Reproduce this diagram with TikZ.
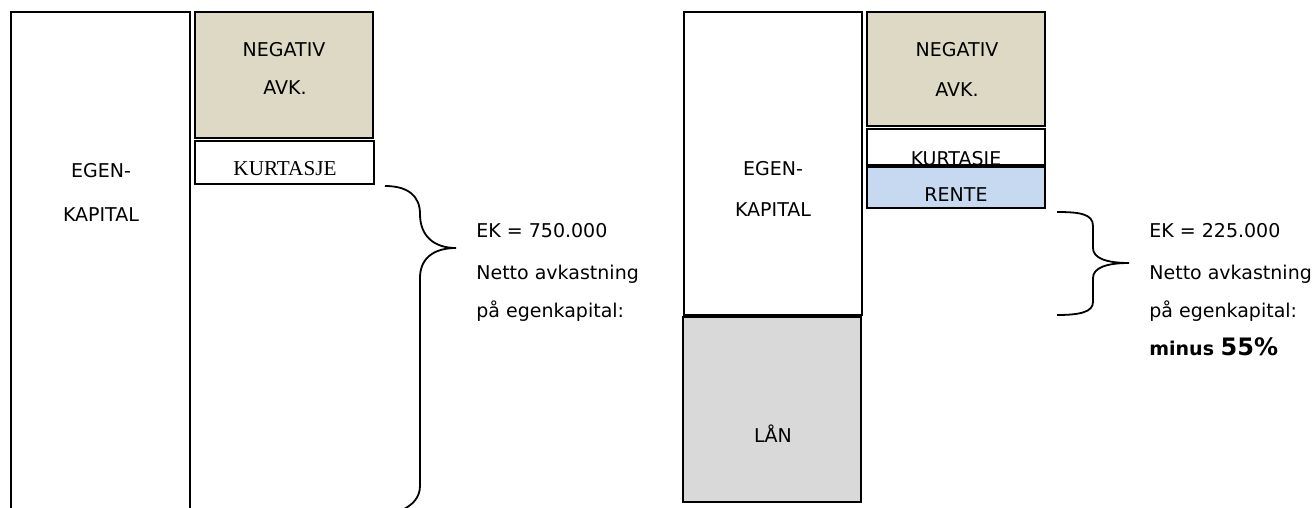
\documentclass[tikz,border=0pt]{standalone}
\usepackage{fontspec}
\setmainfont{DejaVu Sans}
\newfontfamily\kurtfont{Liberation Serif}
\definecolor{negavk}{HTML}{DDD9C4}
\definecolor{laan}{HTML}{D9D9D9}
\definecolor{rente}{HTML}{C6D9F0}

\begin{document}
\begin{tikzpicture}[x=0.5pt, y=-0.5pt, font=\fontsize{9.5}{12}\selectfont,
		boks/.style={draw, line width=1pt},
		tekst/.style={anchor=base, inner sep=0pt},
		info/.style={anchor=base west, inner sep=0pt},
		klamme/.style={line width=0.9pt}]
	\useasboundingbox (0,0) rectangle (1314,508);
	
	% Uten lån
	\draw[boks] (11,514) -- (11,12) -- (190,12) -- (190,514);
	\draw[boks, fill=negavk] (195,12) rectangle (373,138);
	\draw[boks, fill=white] (195,141) rectangle (374,184);
	\node[tekst] (ekA1) at (101,178) {EGEN-};
	\node[tekst] (ekA2) at (101,222) {KAPITAL};
	\node[tekst] (negA1) at (284,57) {NEGATIV};
	\node[tekst] (negA2) at (285,95) {AVK.};
	\node[tekst, font=\kurtfont\fontsize{10.6}{12}\selectfont] (kurtA) at (285,176) {KURTASJE};
	
	% Klamme
	\draw[klamme] (385,186) .. controls (408,186) and (420,196) .. (420,214)
		.. controls (420,236) and (434,248) .. (456,248)
		.. controls (434,248) and (420,258) .. (420,278) -- (420,486)
		.. controls (420,497) and (413,505) .. (402,510);
	\node[info] (ekA) at (476,238) {EK = 750.000};
	\node[info] (nettoA) at (476,279) {Netto avkastning};
	\node[info] (paaA) at (476,318) {på egenkapital:};
	
	% Med lån
	\draw[boks] (684,12) rectangle (862,315);
	\draw[boks, fill=laan] (683,317) rectangle (861,502);
	\draw[boks, fill=negavk] (867,12) rectangle (1045,126);
	\draw[boks, fill=white] (867,129) rectangle (1045,165);
	\node[tekst] (kurtB) at (956,166) {KURTASJE};
	\draw[boks, fill=rente] (867,167) rectangle (1045,208);
	\node[tekst] (ekB1) at (773,176) {EGEN-};
	\node[tekst] (ekB2) at (773,217) {KAPITAL};
	\node[tekst] (negB1) at (957,57) {NEGATIV};
	\node[tekst] (negB2) at (957,97) {AVK.};
	\node[tekst] (renteB) at (956,202) {RENTE};
	\node[tekst] (laanB) at (773,443) {LÅN};
	
	% Klamme
	\draw[klamme] (1057,212) .. controls (1080,212) and (1093,214) .. (1093,226) -- (1093,248)
		.. controls (1093,258) and (1106,263) .. (1129,263)
		.. controls (1106,263) and (1093,268) .. (1093,278) -- (1093,302)
		.. controls (1093,312) and (1080,315) .. (1057,315);
	\node[info] (ekB) at (1149,238) {EK = 225.000};
	\node[info] (nettoB) at (1149,279) {Netto avkastning};
	\node[info] (paaB) at (1149,318) {på egenkapital:};
	\node[info, font=\bfseries\fontsize{9.5}{12}\selectfont] (resB) at (1149,356) {minus {\fontsize{12}{12}\selectfont 55\%}};
\end{tikzpicture}
\end{document}
